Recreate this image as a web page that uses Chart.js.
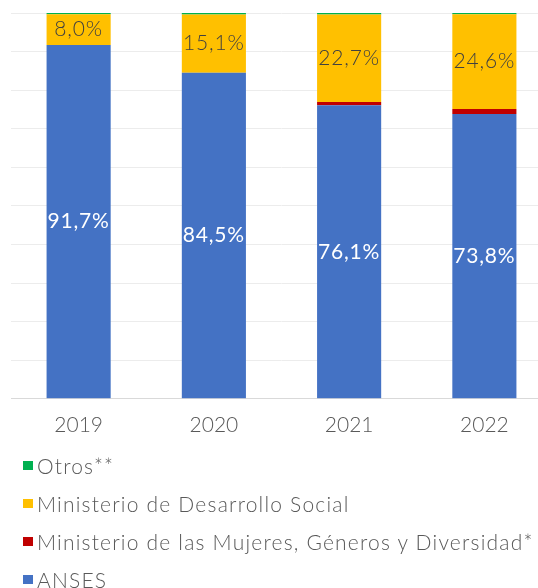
<!DOCTYPE html>
<html>
<head>
<meta charset="utf-8">
<script src="https://cdn.jsdelivr.net/npm/chart.js@4"></script>
<style>
  html, body { margin: 0; padding: 0; background: #fff; overflow: hidden; width: 538px; height: 588px; }
  #wrap { position: relative; width: 552px; height: 452px; }
  #legend { position: absolute; left: 23px; top: 446px; font-family: 'Lato', sans-serif; font-weight: 300; font-size: 21px; letter-spacing: 1.2px; color: #595959; white-space: nowrap; }
  #legend .row { height: 38px; display: flex; align-items: center; }
  #legend .sw { width: 10px; height: 9px; margin-right: 4px; display: inline-block; }
</style>
</head>
<body>
<div id="wrap"><canvas id="chart"></canvas></div>
<div id="legend"></div>
<script>
const years = ['2019', '2020', '2021', '2022'];
const anses = [91.7, 84.5, 76.1, 73.8];
const mujeres = [0, 0, 0.8, 1.3];
const desarrollo = [8.0, 15.1, 22.7, 24.6];
const otros = [0.3, 0.4, 0.4, 0.3];

const seriesNames = ['ANSES', 'Ministerio de las Mujeres, Géneros y Diversidad*', 'Ministerio de Desarrollo Social', 'Otros**'];
const seriesColors = ['#4472C4', '#C00000', '#FFC000', '#00B050'];
const labelled = { 0: '#ffffff', 2: '#404040' };

function fmtPct(v) {
  return v.toFixed(1).replace('.', ',') + '%';
}

const barLabels = {
  id: 'barLabels',
  afterDatasetsDraw(chart) {
    const ctx = chart.ctx;
    ctx.save();
    ctx.textAlign = 'center';
    ctx.textBaseline = 'middle';
    ctx.letterSpacing = '0.8px';
    chart.data.datasets.forEach((ds, i) => {
      if (!(i in labelled)) return;
      ctx.fillStyle = labelled[i];
      ctx.font = (i === 0 ? '400 ' : '300 ') + '21px Lato, sans-serif';
      chart.getDatasetMeta(i).data.forEach((bar, j) => {
        const y = (bar.y + bar.base) / 2;
        ctx.fillText(fmtPct(ds.data[j]), bar.x, y);
      });
    });
    ctx.restore();
  }
};

const allSeries = [anses, mujeres, desarrollo, otros];
const datasets = allSeries.map((vals, i) => ({
  label: seriesNames[i],
  data: vals,
  backgroundColor: seriesColors[i],
  borderWidth: 0,
  categoryPercentage: 1,
  barPercentage: 0.474
}));

new Chart(document.getElementById('chart'), {
  type: 'bar',
  data: { labels: years, datasets },
  options: {
    responsive: true,
    maintainAspectRatio: false,
    animation: false,
    layout: { padding: { left: 11, top: 13, right: 0, bottom: 0 } },
    plugins: { legend: { display: false }, tooltip: { enabled: false } },
    scales: {
      x: {
        stacked: true,
        grid: { display: false, drawTicks: false },
        border: { color: '#d9d9d9', width: 1 },
        ticks: { color: '#595959', font: { family: 'Lato', size: 21, weight: '300' }, padding: 14 }
      },
      y: {
        stacked: true,
        min: 0, max: 100,
        grid: { color: '#ececec', lineWidth: 1, drawTicks: false },
        border: { display: false },
        ticks: { display: false, stepSize: 10 }
      }
    }
  },
  plugins: [barLabels]
});

const legend = document.getElementById('legend');
[3, 2, 1, 0].forEach(i => {
  const row = document.createElement('div');
  row.className = 'row';
  row.innerHTML = `<span class="sw" style="background:${seriesColors[i]}"></span>${seriesNames[i]}`;
  legend.appendChild(row);
});
</script>
</body>
</html>
